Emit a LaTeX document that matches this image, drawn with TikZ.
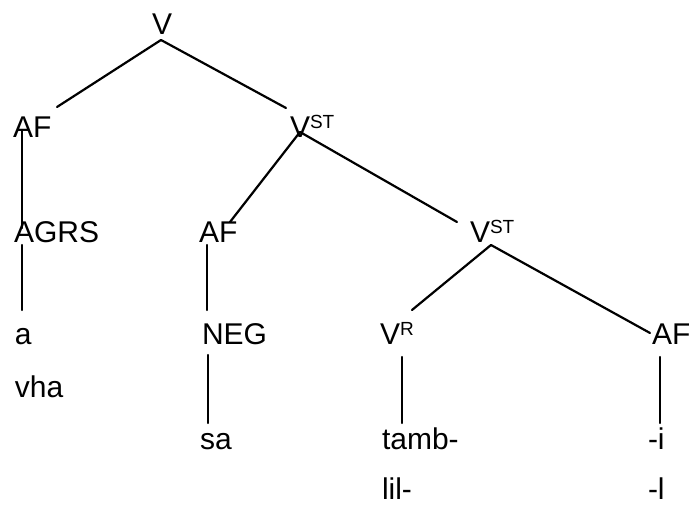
\documentclass[tikz,border=0pt]{standalone}
\usepackage{fontspec}
\setmainfont{Liberation Sans}
\tikzset{
  lab/.style={anchor=base west, inner sep=0pt, outer sep=0pt, font=\fontsize{30}{33}\selectfont},
  branch/.style={line width=2.2pt, line cap=round},
}
\newcommand{\supx}[1]{\raisebox{9pt}{\fontsize{19}{19}\selectfont #1}}
\begin{document}
\begin{tikzpicture}[x=1pt,y=1pt]
\useasboundingbox (0,0) rectangle (689,506);
% nodes
\node[lab] (V)    at (152,471) {V};
\node[lab] (AF1)  at (13,368)  {AF};
\node[lab] (VST1) at (290,368) {V\supx{ST}};
\node[lab] (AGRS) at (14,263)  {AGRS};
\node[lab] (AF2)  at (199,263) {AF};
\node[lab] (VST2) at (470,263) {V\supx{ST}};
\node[lab] (a)    at (15,161)  {a};
\node[lab] (NEG)  at (202,161) {NEG};
\node[lab] (VR)   at (380,161) {V\supx{R}};
\node[lab] (AF3)  at (652,161) {AF};
\node[lab] (vha)  at (15,108)  {vha};
\node[lab] (sa)   at (200,56)  {sa};
\node[lab] (tamb) at (382,56)  {tamb-};
\node[lab] (mi)   at (648,56)  {-i};
\node[lab] (lil)  at (382,6)   {lil-};
\node[lab] (ml)   at (648,6)   {-l};
% branches
\draw[branch] ([shift={(9pt,-5pt)}]V.base west) -- ([shift={(44pt,31pt)}]AF1.base west);
\draw[branch] ([shift={(9pt,-5pt)}]V.base west) -- ([shift={(-4pt,30pt)}]VST1.base west);
\draw[branch] ([shift={(9pt,8pt)}]AF1.base west) -- ([shift={(8pt,15pt)}]AGRS.base west);
\draw[branch] ([shift={(10pt,6pt)}]VST1.base west) -- ([shift={(31pt,21pt)}]AF2.base west);
\draw[branch] ([shift={(10pt,6pt)}]VST1.base west) -- ([shift={(-13pt,21pt)}]VST2.base west);
\draw[branch] ([shift={(8pt,-2pt)}]AGRS.base west) -- ([shift={(7pt,35pt)}]a.base west);
\draw[branch] ([shift={(8pt,-2pt)}]AF2.base west) -- ([shift={(5pt,35pt)}]NEG.base west);
\draw[branch] ([shift={(21pt,-2pt)}]VST2.base west) -- ([shift={(32pt,35pt)}]VR.base west);
\draw[branch] ([shift={(21pt,-2pt)}]VST2.base west) -- ([shift={(-2pt,12pt)}]AF3.base west);
\draw[branch] ([shift={(6pt,-10pt)}]NEG.base west) -- ([shift={(8pt,27pt)}]sa.base west);
\draw[branch] ([shift={(22pt,-12pt)}]VR.base west) -- ([shift={(20pt,27pt)}]tamb.base west);
\draw[branch] ([shift={(8pt,-12pt)}]AF3.base west) -- ([shift={(12pt,27pt)}]mi.base west);
\end{tikzpicture}
\end{document}
